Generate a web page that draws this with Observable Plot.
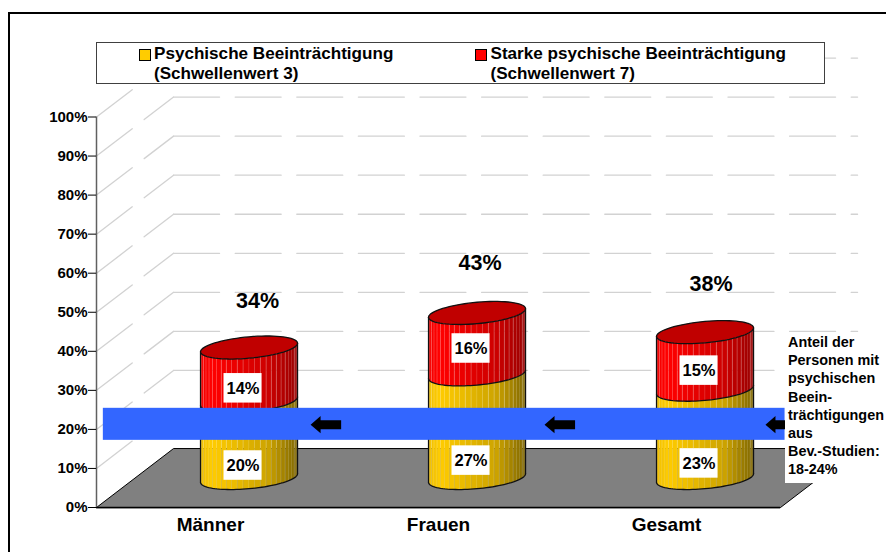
<!DOCTYPE html>
<html lang="de">
<head>
<meta charset="utf-8">
<script src="https://cdn.jsdelivr.net/npm/d3@7"></script>
<script src="https://cdn.jsdelivr.net/npm/@observablehq/plot@0.6"></script>
<style>
  html,body{margin:0;padding:0;background:#fff;overflow:hidden}
  body{width:886px;height:552px;position:relative;font-family:"Liberation Sans",Arial,sans-serif;font-weight:bold;color:#000}
  #chart{position:absolute;left:0;top:0}
  #frame{position:absolute;left:8px;top:12px;width:900px;height:600px;border:2px solid #000;box-sizing:border-box}
  #legend{position:absolute;left:96px;top:42px;width:729px;height:42px;background:#fff;border:1.5px solid #404040;box-sizing:border-box;font-size:17.1px;line-height:19.5px}
  #legend .sw{position:absolute;top:6px;width:10px;height:10px;border:1px solid #000}
  #legend .tx{position:absolute;top:1px;white-space:nowrap}
  #note{position:absolute;left:785px;top:333px;width:101px;height:150px;background:#fff;font-size:14.4px;line-height:18.2px;padding:0 0 0 3px;box-sizing:border-box}
</style>
</head>
<body>
<div id="frame"></div>
<div id="chart"></div>
<div id="legend"></div>
<div id="note"></div>
<script>
const categories = ["Männer", "Frauen", "Gesamt"];
const moderate = [20, 27, 23];
const severe = [14, 16, 15];
const totals = [34, 43, 38];
const seriesNames = [
  ["Psychische Beeinträchtigung", "(Schwellenwert 3)"],
  ["Starke psychische Beeinträchtigung", "(Schwellenwert 7)"]
];
const referenceBand = [17.2, 25.4];
const yTicks = [0, 10, 20, 30, 40, 50, 60, 70, 80, 90, 100];
const noteLines = ["Anteil der", "Personen mit", "psychischen", "Beein-", "trächtigungen", "aus", "Bev.-Studien:", "18-24%"];

// pseudo-3D geometry, in scale units
const depthX = 0.338, depthY = 15.1;
const R = 0.2127, shear = 1.1, flat = 2.74, heightK = 0.983;
const baseY = depthY / 2;
const font = "Liberation Sans, Arial, sans-serif";

const cx = i => i + 0.5 + depthX / 2;
const pt = (i, t, level) => ({
  x: cx(i) + R * Math.cos(t),
  y: baseY + level * heightK + shear * Math.cos(t) + flat * Math.sin(t)
});
const lv = d3.range(0, 49).map(k => k / 48);
const arc = (i, level, a, b) => lv.map(f => pt(i, a + (b - a) * f, level));

const facets = [];
const N = 26;
function addFacets(i, l0, l1, ramp, tag) {
  for (let k = 0; k < N; k++) {
    const t0 = Math.PI + Math.PI * k / N, t1 = Math.PI + Math.PI * (k + 1) / N;
    const f = (pt(i, t0, 0).x + pt(i, t1, 0).x) / 2;
    const u = (f - (cx(i) - R)) / (2 * R);
    const id = tag + i + "-" + k;
    const fill = ramp(u);
    const a0 = arc(i, l0, t0, t1), a1 = arc(i, l1, t0, t1).reverse();
    [...a0, ...a1].forEach(p => facets.push({...p, id, fill}));
  }
}
const redRamp = d3.scaleLinear().domain([0, .12, .7, 1]).range(["#f40000", "#ff0000", "#cc0000", "#9a0000"]);
const yelRamp = d3.scaleLinear().domain([0, .12, .7, 1]).range(["#f0c000", "#ffcc00", "#ccA300", "#806600"]);
categories.forEach((c, i) => {
  addFacets(i, 0, moderate[i], yelRamp, "y");
  addFacets(i, moderate[i], moderate[i] + severe[i], redRamp, "r");
});

const outlines = [];
const topCaps = [];
categories.forEach((c, i) => {
  const add = (pts, id) => pts.forEach(p => outlines.push({...p, id}));
  add(arc(i, 0, Math.PI, 2 * Math.PI), "b" + i);
  add(arc(i, moderate[i], Math.PI, 2 * Math.PI), "m" + i);
  add([pt(i, Math.PI, 0), pt(i, Math.PI, totals[i])], "l" + i);
  add([pt(i, 0, 0), pt(i, 0, totals[i])], "q" + i);
  d3.range(0, 72).forEach(k => topCaps.push({...pt(i, 2 * Math.PI * k / 72, totals[i]), id: i}));
});

const floor = [
  {x: 0, y: 0}, {x: depthX, y: depthY}, {x: 3 + depthX, y: depthY}, {x: 3, y: 0}
];
const wallLines = yTicks.filter(v => v > 0).flatMap(v => [
  {x: depthX, y: v + depthY, v}, {x: 3 + depthX, y: v + depthY, v}
]);
const sideLines = yTicks.filter(v => v > 0).flatMap(v => [
  {x: 0, y: v, v}, {x: depthX, y: v + depthY, v}
]);

const labelRows = categories.flatMap((c, i) => [
  {x: cx(i), y: 7.15 + .18 * moderate[i], text: moderate[i] + "%"},
  {x: cx(i), y: 1.133 * totals[i] - 8, text: severe[i] + "%"}
]);
const boxW = 0.0835, boxH = 3.78;
const topLabels = categories.map((c, i) => ({
  x: cx(i) + (8.5 - .61 * (totals[i] - 34)) / 228, y: 1.106 * totals[i] + 15.15, text: totals[i] + "%"
}));

const arrowTips = [0.939, 1.965, 2.934];
const arrowY = 21.2;
const arrows = arrowTips.flatMap((a, i) => [
  [a, arrowY], [a + .0439, arrowY + 2.2], [a + .0439, arrowY + 1.15], [a + .134, arrowY + 1.15],
  [a + .134, arrowY - 1.15], [a + .0439, arrowY - 1.15], [a + .0439, arrowY - 2.2]
].map(([x, y]) => ({x, y, i})));

const grid = "#d2d2d2";
const plot = Plot.plot({
  width: 886, height: 552,
  marginLeft: 96, marginRight: 106, marginTop: 116.5, marginBottom: 45,
  x: {domain: [0, 3], axis: null},
  y: {domain: [0, 100], axis: null},
  color: {type: "identity"},
  style: {background: "transparent", fontFamily: font, overflow: "visible"},
  marks: [
    Plot.line(floor, {x: "x", y: "y", curve: "linear-closed", fill: "#808080", stroke: "#000", strokeWidth: 1}),
    Plot.line(sideLines, {x: "x", y: "y", z: "v", stroke: grid, strokeWidth: 1.3, strokeDasharray: "45 15"}),
    Plot.line(wallLines, {x: "x", y: "y", z: "v", stroke: grid, strokeWidth: 1.3, strokeDasharray: "46 15.6"}),
    Plot.ruleY([0], {stroke: "#000", strokeWidth: 1.5}),
    Plot.ruleX([0], {y1: 0, y2: 100, stroke: "#606060", strokeWidth: 1.5}),
    Plot.axisY({ticks: yTicks, tickSize: 8, tickPadding: 1, label: null, tickFormat: d => d + "%",
      fontSize: 15, fontWeight: "bold", fontFamily: font, stroke: "#000", fill: "#000"}),
    Plot.text(categories, {x: (d, i) => i + .5, y: -4.35, text: d => d, fontSize: 19, fontWeight: "bold", fontFamily: font, fill: "#000"}),

    Plot.line(facets, {x: "x", y: "y", z: "id", fill: "fill", curve: "linear-closed",
      stroke: "#ffffff", strokeOpacity: .14, strokeWidth: .7}),
    Plot.line(outlines, {x: "x", y: "y", z: "id", stroke: "#111", strokeWidth: 1.3}),
    Plot.line(topCaps, {x: "x", y: "y", z: "id", curve: "linear-closed", fill: "#c00000", stroke: "#111", strokeWidth: 1.3}),

    Plot.rect(labelRows, {x1: d => d.x - boxW, x2: d => d.x + boxW, y1: d => d.y - boxH, y2: d => d.y + boxH,
      dx: -6, fill: "#fff"}),
    Plot.text(labelRows, {x: "x", y: "y", text: "text", dx: -6, fontSize: 16.5, fontWeight: "bold", fontFamily: font, fill: "#000"}),
    Plot.text(topLabels, {x: "x", y: "y", text: "text", fontSize: 21.5, fontWeight: "bold", fontFamily: font, fill: "#000"}),

    Plot.rect([referenceBand], {x1: 0.03, x2: 3.02, y1: d => d[0], y2: d => d[1], fill: "#3366ff"}),
    Plot.line(arrows, {x: "x", y: "y", z: "i", curve: "linear-closed", fill: "#000", stroke: "none"})
  ]
});
document.getElementById("chart").appendChild(plot);

const legend = document.getElementById("legend");
[["#ffcc00", 41.5, 57], ["#ff0000", 377.5, 393.5]].forEach(([c, sx, tx], i) => {
  const s = document.createElement("div");
  s.className = "sw"; s.style.left = sx + "px"; s.style.background = c;
  legend.appendChild(s);
  const t = document.createElement("div");
  t.className = "tx"; t.style.left = tx + "px";
  t.innerHTML = seriesNames[i].join("<br>");
  legend.appendChild(t);
});
document.getElementById("note").innerHTML = noteLines.join("<br>");
</script>
</body>
</html>
